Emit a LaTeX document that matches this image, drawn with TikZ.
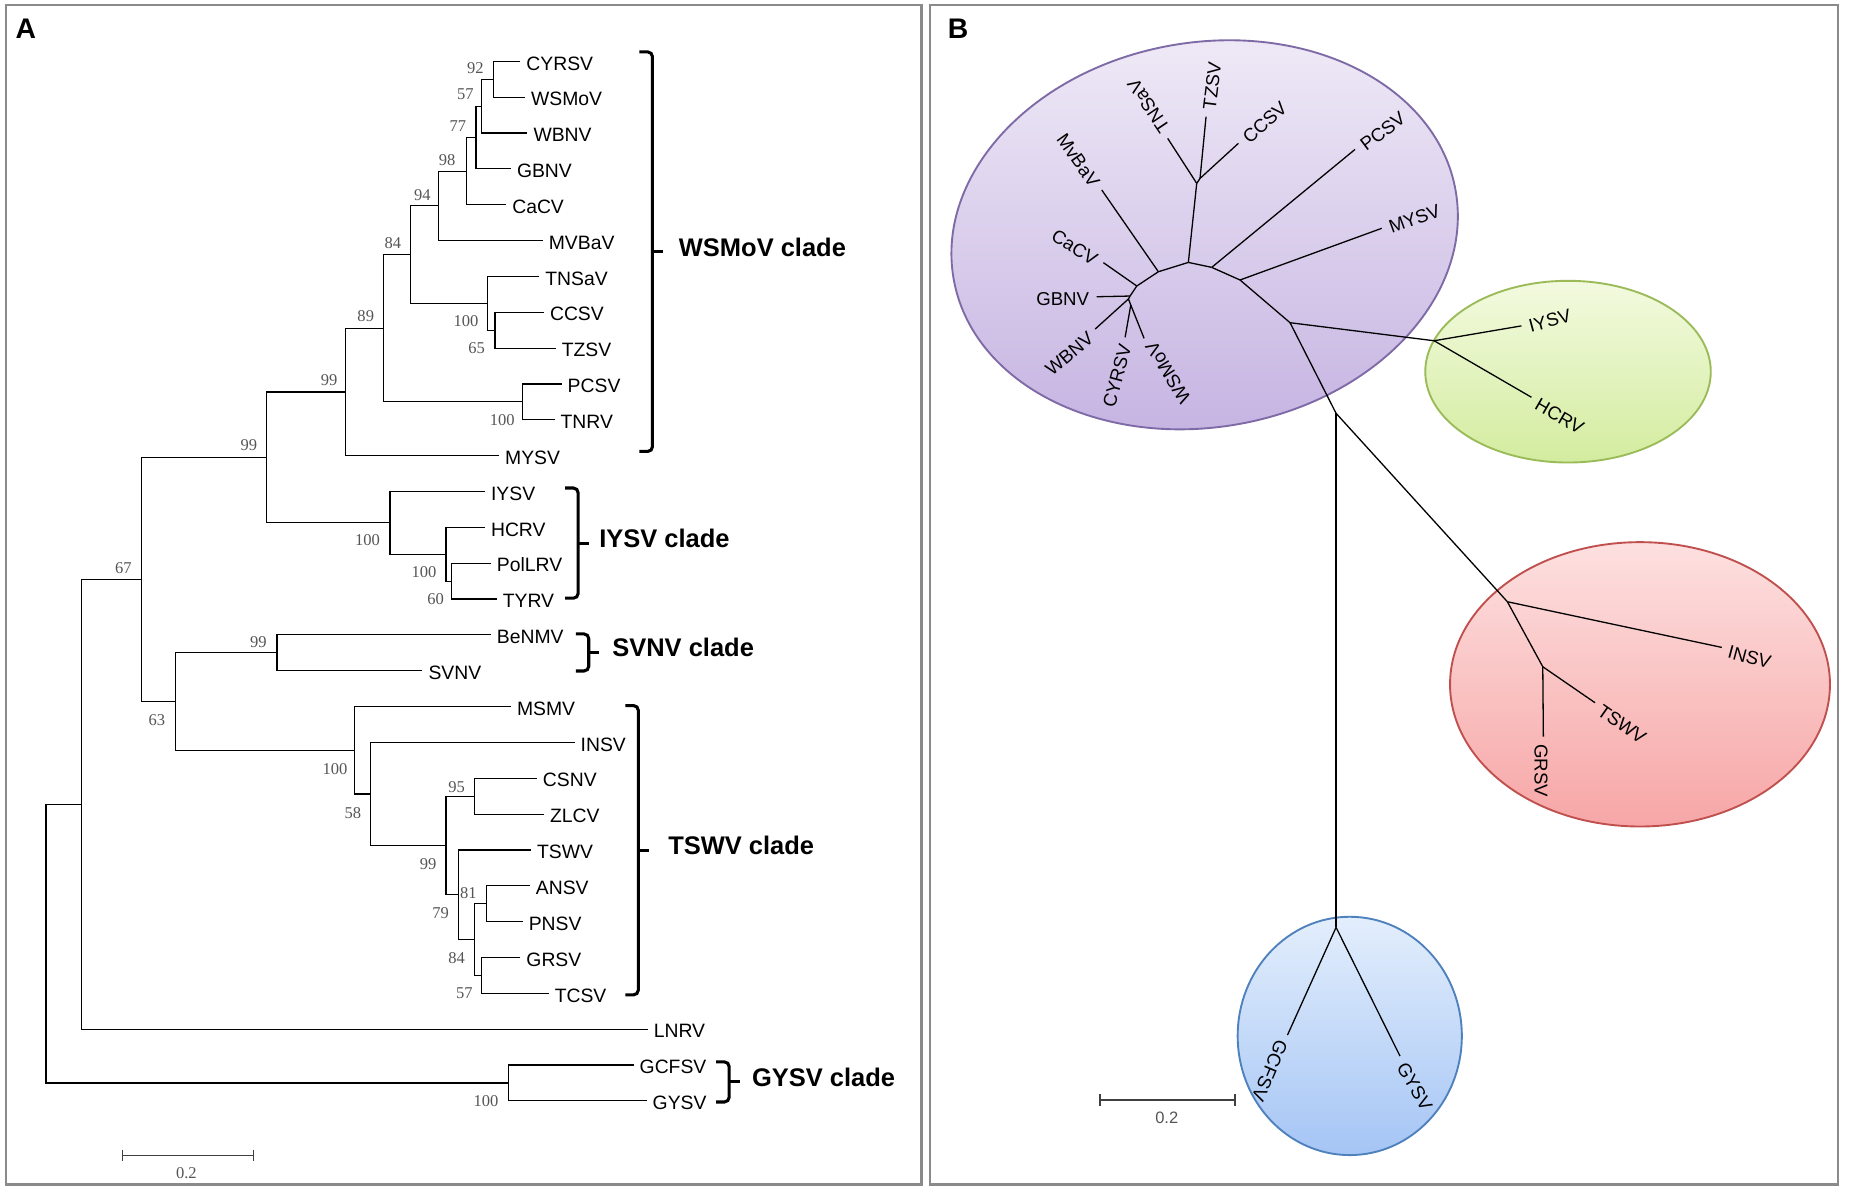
\documentclass[tikz,border=0pt]{standalone}
\usepackage{fontspec}
\setmainfont{Liberation Sans}
\newfontfamily\bootfont{Liberation Serif}
\usetikzlibrary{calc}

\definecolor{frameGray}{HTML}{8A8A8A}
\definecolor{bootGray}{HTML}{555555}
\definecolor{purpleTop}{HTML}{EEE8F6}
\definecolor{purpleBot}{HTML}{C4B2E1}
\definecolor{purpleEdge}{HTML}{7E6AA6}
\definecolor{greenTop}{HTML}{F3FADF}
\definecolor{greenBot}{HTML}{D3EC9F}
\definecolor{greenEdge}{HTML}{9BBB59}
\definecolor{redTop}{HTML}{FDE0E0}
\definecolor{redBot}{HTML}{F7A6A6}
\definecolor{redEdge}{HTML}{C0504D}
\definecolor{blueTop}{HTML}{E3EEFC}
\definecolor{blueBot}{HTML}{A5C5F5}
\definecolor{blueEdge}{HTML}{4F81BD}

\tikzset{
  frame/.style={draw=frameGray, line width=1pt},
  panel/.style={inner sep=0pt, font=\bfseries\fontsize{12}{14}\selectfont},
  branch/.style={line width=0.5pt},
  bbranch/.style={line width=0.55pt},
  leaf/.style={anchor=west, inner xsep=2.4pt, inner ysep=0.5pt, text height=1.4ex,
    text depth=0pt, font=\fontsize{8.2}{9}\selectfont},
  bleaf/.style={inner xsep=3pt, inner ysep=0pt, text height=1.4ex, text depth=0pt,
    font=\fontsize{7.9}{9}\selectfont},
  boot/.style={inner sep=0pt, text=bootGray, font=\bootfont\fontsize{7}{8}\selectfont},
  bracket/.style={line width=1.3pt, rounded corners=2pt},
  cladelabel/.style={anchor=west, inner sep=0pt, font=\bfseries\fontsize{10.8}{12}\selectfont},
  scalebar/.style={line width=0.6pt, draw=black!75},
  cluster/.style={line width=0.8pt}
}

\begin{document}
\begin{tikzpicture}[x=0.5pt, y=-0.5pt]

  \useasboundingbox (0,0) rectangle (1568,1008.6);

  % Panel frames
  \draw[frame] (5,4) rectangle (781,1004);
  \draw[frame] (788,4) rectangle (1558,1004);
  \node[panel] (panelA) at (22,24) {A};
  \node[panel] (panelB) at (812,24) {B};

  %%%%%%%% A: rooted tree

  % leaves, one row each
  \foreach \nm/\tx [count=\i from 0] in {CYRSV/441, WSMoV/445, WBNV/447, GBNV/433,
      CaCV/429, MVBaV/460, TNSaV/457, CCSV/461, TZSV/471, PCSV/476, TNRV/470,
      MYSV/423, IYSV/411, HCRV/411, PolLRV/416, TYRV/421, BeNMV/416, SVNV/358,
      MSMV/433, INSV/487, CSNV/455, ZLCV/461, TSWV/450, ANSV/449, PNSV/443,
      GRSV/441, TCSV/465, LNRV/549, GCFSV/537, GYSV/548}{
    \coordinate (a\nm) at (\tx,{52+30.38*\i});
    \node[leaf] (la\nm) at (a\nm) {\nm};
  }

  % inner nodes
  \foreach \nm/\x/\y in {n92/418.6/67.19, n57/408/89.98, n77/403.5/116.56,
      n98/395.5/145.04, n94/372/174.47, n65/419.6/279.85, nTN/413/257.07,
      n84/348/215.77, nPT/443/340.61, n89/325/278.19, n99a/293/332.19,
      n60/383/492.51, nHP/378/469.73, nIY/330.6/443.15, n99b/226/387.67,
      n99c/234.7/553.27, n95/402/674.79, nAP/412/765.93, nGT/408/826.69,
      n79/402/796.31, n81/388.5/758.34, n99d/378/716.57, n58/314/672.9,
      nMS/300.5/635.87, n63/149/594.57, n67/119.6/491.12, nLN/69/681.69,
      nGY/431/917.83, nRoot/39/799.76}{
    \coordinate (\nm) at (\x,\y);
  }

  % Draw branches, parent to child
  \foreach \p/\c in {n92/aCYRSV, n92/aWSMoV, n57/n92, n57/aWBNV, n77/n57,
      n77/aGBNV, n98/n77, n98/aCaCV, n94/n98, n94/aMVBaV, n65/aCCSV, n65/aTZSV,
      nTN/aTNSaV, nTN/n65, n84/n94, n84/nTN, nPT/aPCSV, nPT/aTNRV, n89/n84,
      n89/nPT, n99a/n89, n99a/aMYSV, n60/aPolLRV, n60/aTYRV, nHP/aHCRV, nHP/n60,
      nIY/aIYSV, nIY/nHP, n99b/n99a, n99b/nIY, n99c/aBeNMV, n99c/aSVNV,
      n95/aCSNV, n95/aZLCV, nAP/aANSV, nAP/aPNSV, nGT/aGRSV, nGT/aTCSV,
      n79/nAP, n79/nGT, n81/aTSWV, n81/n79, n99d/n95, n99d/n81, n58/aINSV,
      n58/n99d, nMS/aMSMV, nMS/n58, n63/n99c, n63/nMS, n67/n99b, n67/n63,
      nLN/n67, nLN/aLNRV, nGY/aGCFSV, nGY/aGYSV, nRoot/nLN, nRoot/nGY}{
    \draw[branch] (\p) |- (\c);
  }

  % bootstrap values
  \foreach \v/\x/\y [count=\k] in {92/403/58, 57/394.5/80, 77/388/107, 98/379/136,
      94/358/165, 84/333/206, 100/395/272, 65/404/295, 89/310/268,
      100/425.6/355.7, 99/279/322, 99/211/377, 100/311.5/458, 100/359.3/484.9,
      60/369.3/508, 67/104.5/481.7, 99/219/544, 63/133/610, 100/284/652,
      58/299/689, 95/387/667, 99/362.8/732.2, 81/397/757, 79/373.4/774,
      84/387/812.1, 57/393.5/841.8, 100/412/933.6}{
    \node[boot] (bs\k) at (\x,\y) {\v};
  }

  % clade brackets
  \foreach \nm/\bx/\bt/\bb/\lx in {WSMoV/553/44/382.6/575, IYSV/490/413.6/507/507.5,
      SVNV/499/537.3/568.7/518.6, TSWV/541/598/843.2/566, GYSV/618/900/934/637}{
    \coordinate (k\nm) at (\bx,{(\bt+\bb)/2});
    \draw[bracket] ({\bx-11},\bt) -- (\bx,\bt) -- (\bx,\bb) -- ({\bx-11},\bb);
    \draw[bracket] (k\nm) -- ++(9,0);
    \node[cladelabel] (c\nm) at (\lx,{(\bt+\bb)/2-4}) {\nm\ clade};
  }

  % scale bar
  \coordinate (sa1) at (104,979.4);
  \coordinate (sa2) at (215,979.4);
  \draw[scalebar] (sa1) -- (sa2);
  \draw[scalebar] (sa1) ++(0,-5) -- ++(0,10);
  \draw[scalebar] (sa2) ++(0,-5) -- ++(0,10);
  \node[boot] (saText) at (158,994) {0.2};

  %%%%%%%% B: unrooted tree

  % Draw clusters
  \path[cluster, draw=purpleEdge, top color=purpleTop, bottom color=purpleBot,
        rotate around={10:(1021,199)}] (1021,199) ellipse [x radius=216, y radius=163];
  \path[cluster, draw=greenEdge, top color=greenTop, bottom color=greenBot]
        (1329,315) ellipse [x radius=121, y radius=77];
  \path[cluster, draw=redEdge, top color=redTop, bottom color=redBot]
        (1390,580) ellipse [x radius=161, y radius=120.5];
  \path[cluster, draw=blueEdge, top color=blueTop, bottom color=blueBot]
        (1144,878) ellipse [x radius=95, y radius=101];

  % inner nodes
  \foreach \nm/\x/\y in {W1/958.4/258.5, W2/956.4/253.4, W3/957.8/250.9,
      W4/963.5/242.4, W5/981.8/230.3, W6/1007.2/222.4, W7/1027/226.6,
      W8/1051/237.3, T2/1014.3/155.4, T1/1017.1/151.2, U1/1093.4/273.5,
      G0/1215.5/288.8, C1/1132.4/350.3, R0/1277.6/510, R1/1307.6/565.1,
      Y0/1132.4/786}{
    \coordinate (\nm) at (\x,\y);
  }

  % leaves with their labels
  \foreach \nm/\tx/\ty/\rot/\side in {CYRSV/953.6/285.9/75/east,
      WSMoV/969.7/286.8/122/east, WBNV/928.2/278.9/40/east,
      GBNV/929.5/251.5/0/east, CaCV/935.2/222.6/-32/east,
      MvBaV/933.8/161/-55/east, TNSaV/989.7/117.3/124/west,
      TZSV/1022.2/98.9/83/west, CCSV/1049.6/121.5/42/west,
      PCSV/1148.5/126.6/37/west, MYSV/1171.1/193.5/20/west,
      IYSV/1289.5/276.2/15/west, HCRV/1298/336.7/-30/west,
      INSV/1459.3/548.7/-15/west, TSWV/1351.9/595.6/-35/west,
      GRSV/1308.1/624.4/-90/west, GCFSV/1091.2/877.3/-113/west,
      GYSV/1186.6/895.1/-60/west}{
    \coordinate (b\nm) at (\tx,\ty);
    \node[bleaf, anchor=\side, rotate=\rot] (lb\nm) at (b\nm) {\nm};
  }

  % Draw branches
  \foreach \p/\c in {W1/bCYRSV, W1/bWSMoV, W2/W1, W2/bWBNV, W3/W2, W3/bGBNV,
      W4/W3, W4/bCaCV, W5/W4, W5/bMvBaV, W6/W5, W6/T2, T2/bTNSaV, T2/T1,
      T1/bTZSV, T1/bCCSV, W7/W6, W7/bPCSV, W8/W7, W8/bMYSV, U1/W8, U1/G0,
      G0/bIYSV, G0/bHCRV, U1/C1, C1/R0, R0/bINSV, R0/R1, R1/bTSWV, R1/bGRSV,
      C1/Y0, Y0/bGCFSV, Y0/bGYSV}{
    \draw[bbranch] (\p) -- (\c);
  }

  % scale bar
  \coordinate (sb1) at (932.4,932.4);
  \coordinate (sb2) at (1046.8,932.4);
  \draw[scalebar] (sb1) -- (sb2);
  \draw[scalebar] (sb1) ++(0,-5) -- ++(0,10);
  \draw[scalebar] (sb2) ++(0,-5) -- ++(0,10);
  \node[boot, font=\fontsize{7}{8}\selectfont] (sbText) at (988.9,947.5) {0.2};

\end{tikzpicture}
\end{document}
